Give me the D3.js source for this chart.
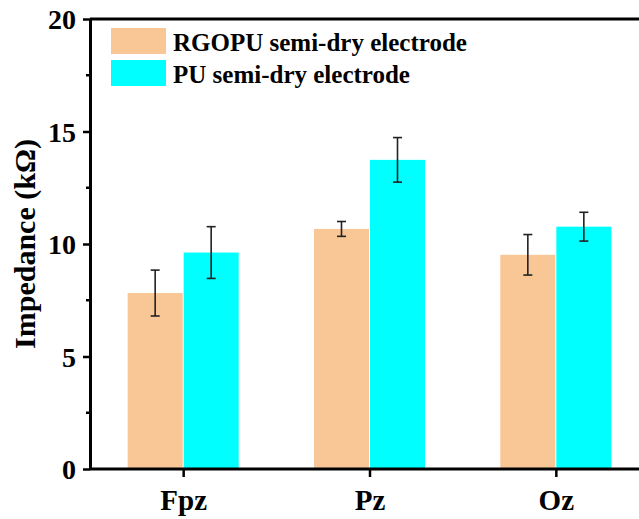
<!DOCTYPE html>
<html>
<head>
<meta charset="utf-8">
<script src="https://cdn.jsdelivr.net/npm/d3@7"></script>
<style>
  body { margin: 0; background: #fff; }
</style>
</head>
<body>
<svg id="chart" width="639" height="519"></svg>
<script>
// data
const sites = ["Fpz", "Pz", "Oz"]
const seriesNames = ["RGOPU semi-dry electrode", "PU semi-dry electrode"]
const rgopuMean = [7.82, 10.67, 9.52]
const rgopuErr = [1.02, 0.33, 0.9]
const puMean = [9.62, 13.74, 10.77]
const puErr = [1.15, 0.99, 0.64]
const yTicks = [0, 5, 10, 15, 20]
const yMinor = [2.5, 7.5, 12.5, 17.5]
const colours = ["#F9C796", "#00FFFF"]

const fontFam = '"Liberation Serif"'
const svg = d3.select("#chart")
const plotL = 90, plotR = 649, plotT = 19, plotB = 469

const x = d3.scalePoint().domain(sites).range([plotL, plotR]).padding(0.5)
const y = d3.scaleLinear().domain([0, 20]).range([plotB, plotT])
const barW = 55

const rows = sites.map((s, i) => ([
    { site: s, k: 0, v: rgopuMean[i], e: rgopuErr[i] },
    { site: s, k: 1, v: puMean[i], e: puErr[i] }
])).flat()

// bars
svg.selectAll("rect.bar")
    .data(rows)
    .enter()
    .append("rect")
    .attr("class", "bar")
    .attr("x", d => d.k == 0 ? x(d.site) - barW - 0.5 : x(d.site) + 0.5)
    .attr("y", d => y(d.v))
    .attr("width", barW)
    .attr("height", d => y(0) - y(d.v))
    .style("fill", d => colours[d.k])

// error bars
const eb = svg.selectAll("g.err")
    .data(rows)
    .enter()
    .append("g")
    .attr("class", "err")
    .attr("transform", d => `translate(${d.k == 0 ? x(d.site) - barW / 2 - 0.5 : x(d.site) + barW / 2 + 0.5},0)`)
    .style("stroke", "#222")
    .style("stroke-width", 1.6)
eb.append("line")
    .attr("y1", d => y(d.v - d.e)).attr("y2", d => y(d.v + d.e))
eb.append("line")
    .attr("x1", -4.5).attr("x2", 4.5)
    .attr("y1", d => y(d.v + d.e)).attr("y2", d => y(d.v + d.e))
eb.append("line")
    .attr("x1", -4.5).attr("x2", 4.5)
    .attr("y1", d => y(d.v - d.e)).attr("y2", d => y(d.v - d.e))

// frame (top + right)
svg.append("path")
    .attr("d", `M${plotL},${plotT}H${plotR}V${plotB}`)
    .style("fill", "none").style("stroke", "#000").style("stroke-width", 3)

// y axis
const yAxis = svg.append("g")
    .attr("transform", `translate(${plotL},0)`)
    .call(d3.axisLeft(y).tickValues(yTicks).tickSize(7).tickPadding(7).tickSizeOuter(0))
yAxis.attr("font-family", null)
yAxis.select(".domain").style("stroke-width", 3)
yAxis.selectAll(".tick line").style("stroke-width", 2.5)
yAxis.selectAll(".tick text")
    .style("font-family", fontFam).style("font-weight", "bold")
    .style("font-size", "28px").style("fill", "#000").attr("dy", "0.34em")
yAxis.selectAll("line.minor")
    .data(yMinor)
    .enter()
    .append("line")
    .attr("class", "minor")
    .attr("x1", -4).attr("x2", 0)
    .attr("y1", d => y(d)).attr("y2", d => y(d))
    .style("stroke", "#000").style("stroke-width", 2.5)

// x axis
const xAxis = svg.append("g")
    .attr("transform", `translate(0,${plotB})`)
    .call(d3.axisBottom(x).tickSize(8).tickPadding(12).tickSizeOuter(0))
xAxis.attr("font-family", null)
xAxis.select(".domain").attr("d", `M${plotL},0H${plotR}`).style("stroke-width", 3)
xAxis.selectAll(".tick line").style("stroke-width", 2.5)
xAxis.selectAll(".tick text")
    .style("font-family", fontFam).style("font-weight", "bold")
    .style("font-size", "29px").style("fill", "#000")

// y label
svg.append("text")
    .attr("transform", "translate(35,244) rotate(-90)")
    .attr("text-anchor", "middle")
    .style("font-family", fontFam).style("font-weight", "bold")
    .style("font-size", "30px")
    .text("Impedance (k\u03A9)")

// legend
const lg = svg.selectAll("g.legend")
    .data(seriesNames)
    .enter()
    .append("g")
    .attr("class", "legend")
    .attr("transform", (d, i) => `translate(111,${28 + i * 32})`)
lg.append("rect")
    .attr("width", 55).attr("height", 26)
    .style("fill", (d, i) => colours[i])
lg.append("text")
    .attr("x", 62).attr("y", 23)
    .style("font-family", fontFam).style("font-weight", "bold")
    .style("font-size", "25px")
    .text(d => d)
</script>
</body>
</html>
